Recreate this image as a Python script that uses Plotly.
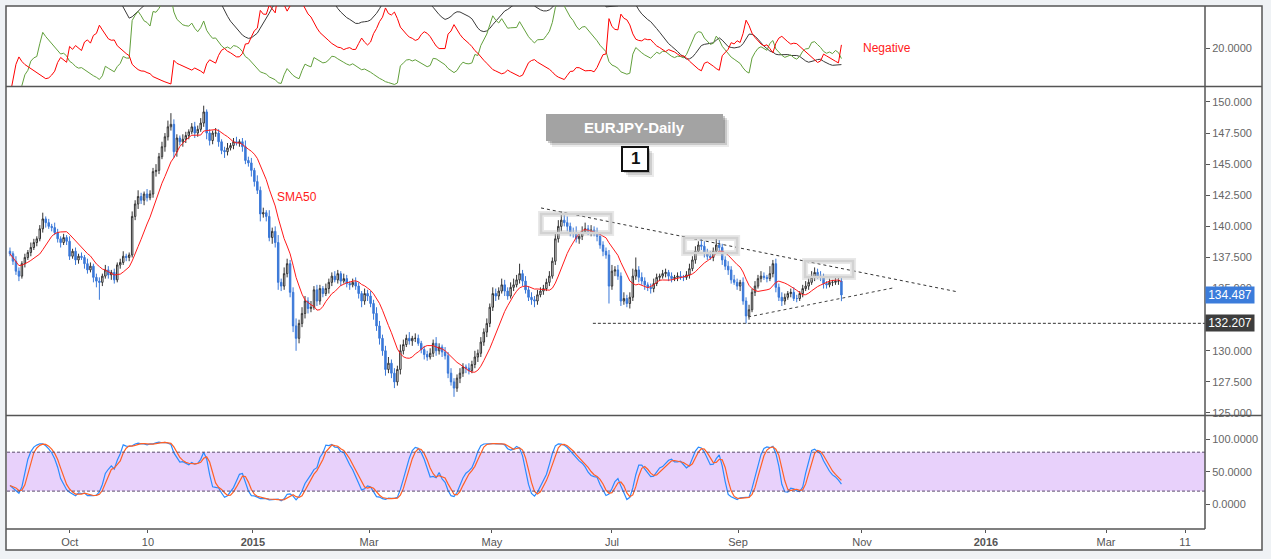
import numpy as np
import pandas as pd
import plotly.graph_objects as go

# ---------------- data ----------------
first_open = 138.0
closes = [
    137.8, 137.2, 136.4, 136.0, 137.0, 137.5, 137.9, 138.3, 138.7, 139.0,
    139.8, 140.6, 140.3, 140.0, 139.9, 139.5, 139.0, 138.7, 139.1, 138.8,
    137.6, 138.0, 137.3, 137.6, 137.5, 137.0, 136.5, 136.8, 135.9, 135.6,
    135.5, 136.0, 136.5, 136.1, 136.3, 135.7, 136.9, 137.1, 137.6, 137.5,
    137.7, 140.8, 141.8, 142.4, 142.1, 142.6, 142.3, 142.6, 144.4, 144.5,
    145.6, 146.4, 147.2, 148.0, 148.2, 146.0, 147.1, 146.8, 147.0, 147.3,
    147.6, 148.0, 147.5, 147.8, 148.3, 149.2, 147.5, 146.9, 147.5, 147.5,
    146.8, 146.1, 146.0, 146.3, 146.5, 146.8, 146.7, 146.8, 146.4, 145.3,
    145.1, 144.5, 143.6, 142.9, 141.0, 141.1, 140.8, 139.1, 139.6, 138.7,
    135.5, 135.2, 136.2, 137.0, 134.7, 132.0, 131.0, 132.2, 133.0, 134.0,
    133.4, 133.5, 134.9, 134.0, 135.0, 134.6, 135.0, 135.5, 136.0, 135.7,
    136.2, 135.6, 135.8, 135.4, 135.3, 135.5, 135.2, 134.6, 134.0, 134.6,
    134.4, 133.8, 133.0, 132.0, 131.0, 130.0, 128.5, 129.0, 128.2, 127.5,
    128.5, 130.0, 130.5, 131.0, 130.8, 131.0, 131.0, 130.6, 130.1, 129.7,
    129.5, 129.8, 130.6, 130.0, 130.3, 129.9, 129.6, 128.2, 127.5, 127.0,
    127.8, 128.2, 128.7, 128.6, 128.4, 128.9, 129.5, 129.8, 130.7, 131.5,
    132.2, 133.5, 134.6, 134.4, 134.8, 135.3, 134.8, 134.4, 135.1, 135.3,
    135.7, 136.2, 135.6, 134.9, 134.3, 134.1, 134.0, 134.5, 134.8, 135.0,
    135.5, 136.0, 137.2, 139.0, 140.0, 140.5, 140.3, 140.0, 139.5, 139.5,
    139.0, 139.2, 139.6, 139.8, 139.6, 139.7, 139.5, 139.2, 138.5, 138.0,
    137.7, 135.2, 136.4, 136.5, 136.0, 134.0, 134.2, 133.8, 134.3, 136.0,
    136.5, 135.9, 135.6, 135.3, 135.1, 135.0, 135.4, 135.9, 136.0, 136.2,
    136.3, 136.0, 135.8, 135.9, 136.0, 135.9, 135.9, 136.1, 136.6, 137.3,
    138.0, 138.5, 138.4, 137.9, 137.6, 137.5, 138.0, 138.5, 138.3, 137.3,
    136.8, 136.5, 135.7, 135.5, 135.2, 135.5, 134.0, 132.8, 133.3, 134.7,
    135.2, 135.8, 136.0, 135.9, 135.8, 136.2, 137.0, 135.1, 134.3, 134.0,
    134.3, 134.6, 134.7, 134.2, 134.2, 134.6, 135.0, 135.2, 135.5, 135.9,
    136.3, 136.0, 135.9, 135.4, 135.3, 135.5, 135.5, 135.6, 135.6, 134.487,
]
# wick lengths above the body / below the body (yen)
up_wick = [
    0.3,0.2,0.4,0.3,0.2,0.3,0.2,0.4,0.3,0.2, 0.3,0.5,0.2,0.3,0.2,0.4,0.3,0.2,0.3,0.2,
    0.4,0.2,0.3,0.2,0.3,0.2,0.4,0.3,0.2,0.3, 0.3,0.2,0.4,0.3,0.2,0.3,0.2,0.3,0.4,0.2,
    0.2,0.4,0.3,0.5,0.3,0.2,0.4,0.3,0.3,0.5, 0.3,0.4,0.3,0.5,0.9,0.4,0.3,0.2,0.4,0.3,
    0.2,0.3,0.4,0.3,0.4,0.5,0.2,0.3,0.2,0.4, 0.3,0.2,0.3,0.4,0.2,0.3,0.4,0.2,0.3,0.5,
    0.3,0.4,0.2,0.5,0.3,0.4,0.2,0.5,0.3,0.4, 0.6,0.3,0.5,0.4,0.3,0.4,0.6,0.3,0.5,0.4,
    0.3,0.5,0.3,0.4,0.3,0.2,0.4,0.3,0.3,0.4, 0.3,0.2,0.4,0.3,0.2,0.3,0.4,0.3,0.2,0.4,
    0.3,0.4,0.3,0.5,0.4,0.3,0.4,0.5,0.3,0.4, 0.3,0.5,0.4,0.3,0.5,0.2,0.4,0.3,0.2,0.3,
    0.3,0.4,0.3,0.5,0.3,0.2,0.4,0.3,0.4,0.3, 0.3,0.4,0.3,0.2,0.4,0.3,0.5,0.3,0.4,0.3,
    0.4,0.3,0.5,0.4,0.3,0.5,0.4,0.3,0.4,0.5, 0.4,0.8,0.3,0.4,0.3,0.4,0.3,0.4,0.3,0.3,
    0.3,0.4,0.3,0.4,0.5,0.7,0.4,0.5,0.3,0.4, 0.5,0.3,0.4,0.5,0.3,0.4,0.3,0.4,0.3,0.3,
    0.3,0.4,0.5,0.3,0.4,0.3,0.5,0.3,0.4,0.6, 1.0,0.3,0.4,0.3,0.2,0.3,0.4,0.3,0.2,0.3,
    0.3,0.2,0.3,0.2,0.3,0.4,0.2,0.3,0.4,0.3, 0.4,0.3,0.5,0.4,0.3,0.4,0.3,0.5,0.4,0.3,
    0.3,0.4,0.3,0.4,0.3,0.2,0.4,0.3,0.4,0.3, 0.4,0.3,0.4,0.3,0.2,0.6,0.3,0.4,0.3,0.4,
    0.3,0.2,0.3,0.4,0.3,0.2,0.3,0.4,0.3,0.5, 0.4,0.3,0.4,0.3,0.2,0.3,0.2,0.4,0.3,0.3,
]
dn_wick = [
    0.2,0.3,0.3,0.4,0.2,0.3,0.2,0.3,0.2,0.3, 0.2,0.3,0.4,0.2,0.3,0.2,0.3,0.4,0.2,0.3,
    0.3,0.2,0.4,0.3,0.2,0.4,0.3,0.2,0.4,0.5, 1.4,0.3,0.2,0.3,0.4,0.3,0.2,0.3,0.2,0.3,
    0.3,0.2,0.3,0.4,0.3,0.4,0.3,0.2,0.3,0.4, 0.3,0.2,0.4,0.3,0.3,0.5,0.4,0.3,0.4,0.3,
    0.3,0.2,0.4,0.3,0.2,0.3,0.5,0.4,0.3,0.3, 0.4,0.3,0.5,0.3,0.2,0.3,0.2,0.3,0.4,0.3,
    0.3,0.5,0.4,0.3,0.6,0.3,0.4,0.3,0.5,0.4, 0.6,0.4,0.3,0.3,0.4,0.5,1.0,0.4,0.3,0.4,
    0.4,0.3,0.2,0.4,0.3,0.3,0.2,0.4,0.3,0.2, 0.3,0.4,0.2,0.3,0.4,0.2,0.3,0.4,0.5,0.3,
    0.4,0.3,0.5,0.4,0.5,0.4,0.5,0.3,0.4,0.5, 0.3,0.4,0.3,0.2,0.3,0.4,0.3,0.2,0.3,0.4,
    0.3,0.2,0.3,0.4,0.3,0.4,0.3,0.4,0.3,0.7, 0.3,0.4,0.3,0.4,0.3,0.2,0.3,0.4,0.3,0.3,
    0.4,0.3,0.3,0.4,0.3,0.2,0.4,0.3,0.2,0.3, 0.2,0.3,0.4,0.3,0.3,0.4,0.5,0.3,0.2,0.3,
    0.2,0.3,0.2,0.3,0.3,0.4,0.3,0.4,0.3,0.4, 0.3,0.4,0.3,0.2,0.3,0.4,0.3,0.4,0.3,0.4,
    0.3,1.4,0.3,0.4,0.3,0.4,0.3,0.3,0.4,0.3, 0.3,0.4,0.3,0.4,0.3,0.4,0.3,0.2,0.3,0.2,
    0.3,0.4,0.3,0.2,0.3,0.2,0.3,0.2,0.3,0.2, 0.3,0.2,0.3,0.4,0.3,0.2,0.3,0.2,0.3,0.4,
    0.3,0.4,0.3,0.2,0.3,0.4,0.3,0.6,0.3,0.2, 0.3,0.2,0.3,0.2,0.3,0.2,0.3,0.4,0.3,0.4,
    0.3,0.2,0.3,0.2,0.3,0.2,0.3,0.2,0.3,0.2, 0.3,0.2,0.3,0.4,0.3,0.2,0.3,0.2,0.3,0.5,
]

tick_pos = [20.1, 46.3, 81.5, 120.5, 161.7, 202.0, 244.3, 285.9, 327.5, 367.8, 394.3]
tick_text = ["Oct", "10", "<b>2015</b>", "Mar", "May", "Jul", "Sep", "Nov", "<b>2016</b>", "Mar", "11"]
price_ticks = [125.0, 127.5, 130.0, 135.0, 137.5, 140.0, 142.5, 145.0, 147.5, 150.0]
stoch_ticks = [0, 50, 100]
dmi_ticks = [20]

# trend-line / level / highlight annotations (bar index, price)
trend_upper_x = [178.2, 318.1]
trend_upper_y = [141.48, 134.73]
trend_lower_x = [247.7, 296.3]
trend_lower_y = [132.72, 135.05]
support_level = 132.207
support_start = 195.6
last_price = 134.487
boxes_x0 = [178.2, 226.2, 266.8]
boxes_x1 = [201.7, 244.0, 282.9]
boxes_y0 = [139.47, 137.86, 135.93]
boxes_y1 = [141.00, 139.07, 137.22]

sma_window = 10
stoch_n = 10
dmi_n = 14

# ---------------- derived series ----------------
n = len(closes)
idx = np.arange(n)
c = np.array(closes, dtype=float)
o = np.concatenate([[first_open], c[:-1]])          # open = previous close
h = np.maximum(o, c) + np.array(up_wick[:n])
l = np.minimum(o, c) - np.array(dn_wick[:n])

cs, hs, ls = pd.Series(c), pd.Series(h), pd.Series(l)
sma = cs.rolling(sma_window, min_periods=1).mean()

hh = hs.rolling(stoch_n, min_periods=1).max()
ll = ls.rolling(stoch_n, min_periods=1).min()
fast_k = 100 * (cs - ll) / (hh - ll)
k_line = fast_k.rolling(3, min_periods=1).mean()
d_line = k_line.rolling(3, min_periods=1).mean()

upm = hs.diff()
dnm = -ls.diff()
pdm = pd.Series(np.where((upm > dnm) & (upm > 0), upm, 0.0))
ndm = pd.Series(np.where((dnm > upm) & (dnm > 0), dnm, 0.0))
tr = pd.concat([hs - ls, (hs - cs.shift()).abs(), (ls - cs.shift()).abs()], axis=1).max(axis=1)
a = 1.0 / dmi_n
atr = tr.ewm(alpha=a, adjust=False).mean()
pdi = 100 * pdm.ewm(alpha=a, adjust=False).mean() / atr
ndi = 100 * ndm.ewm(alpha=a, adjust=False).mean() / atr
dx = 100 * (pdi - ndi).abs() / (pdi + ndi)
adx = dx.ewm(alpha=a, adjust=False).mean()

# ---------------- figure ----------------
FONT = "Liberation Sans, Arial, sans-serif"
fig = go.Figure()

fig.add_trace(go.Scatter(x=idx, y=adx, mode="lines", line=dict(color="#3a3a3a", width=1), xaxis="x", yaxis="y"))
fig.add_trace(go.Scatter(x=idx, y=pdi, mode="lines", line=dict(color="#62a03c", width=1), xaxis="x", yaxis="y"))
fig.add_trace(go.Scatter(x=idx, y=ndi, mode="lines", line=dict(color="#ff0000", width=1), xaxis="x", yaxis="y"))

fig.add_trace(go.Candlestick(
    x=idx, open=o, high=h, low=l, close=c, xaxis="x2", yaxis="y2",
    increasing=dict(line=dict(color="#333333", width=1), fillcolor="#ffffff"),
    decreasing=dict(line=dict(color="#3a78d8", width=1), fillcolor="#3a78d8"),
    whiskerwidth=0, hoverinfo="skip"))
fig.add_trace(go.Scatter(x=idx, y=sma, mode="lines", line=dict(color="#ff1a1a", width=1), xaxis="x2", yaxis="y2"))

fig.add_trace(go.Scatter(x=idx, y=k_line, mode="lines", line=dict(color="#2a8cff", width=1.2), xaxis="x3", yaxis="y3"))
fig.add_trace(go.Scatter(x=idx, y=d_line, mode="lines", line=dict(color="#ff6026", width=1.2), xaxis="x3", yaxis="y3"))

def px(x):
    return (x - 7) / 1198.0

def py(y):
    return (529 - y) / 523.0

XR = [-1.0, 401.0]
shapes = []
# outer white frame
shapes.append(dict(type="rect", xref="paper", yref="paper", x0=px(6), x1=px(1262), y0=py(550), y1=py(6),
                   fillcolor="white", line=dict(color="#555", width=1.5), layer="below"))
# stochastic band
shapes.append(dict(type="rect", xref="x3", yref="y3", x0=XR[0], x1=XR[1], y0=20, y1=80,
                   fillcolor="#e8d1fb", line=dict(width=0), layer="below"))
for lv in (20, 80):
    shapes.append(dict(type="line", xref="x3", yref="y3", x0=XR[0], x1=XR[1], y0=lv, y1=lv,
                       line=dict(color="#5a4a6e", width=1, dash="3px,2px")))
# trend lines & support
shapes.append(dict(type="line", xref="x2", yref="y2", x0=trend_upper_x[0], x1=trend_upper_x[1],
                   y0=trend_upper_y[0], y1=trend_upper_y[1], line=dict(color="#333", width=1, dash="3px,3px")))
shapes.append(dict(type="line", xref="x2", yref="y2", x0=trend_lower_x[0], x1=trend_lower_x[1],
                   y0=trend_lower_y[0], y1=trend_lower_y[1], line=dict(color="#444", width=1, dash="3px,3px")))
shapes.append(dict(type="line", xref="x2", yref="y2", x0=support_start, x1=XR[1],
                   y0=support_level, y1=support_level, line=dict(color="#333", width=1, dash="3px,2px")))
# highlight boxes
for x0, x1, y0, y1 in zip(boxes_x0, boxes_x1, boxes_y0, boxes_y1):
    shapes.append(dict(type="rect", xref="x2", yref="y2", x0=x0, x1=x1, y0=y0, y1=y1,
                       line=dict(color="rgba(190,190,190,0.35)", width=6)))
    shapes.append(dict(type="rect", xref="x2", yref="y2", x0=x0, x1=x1, y0=y0, y1=y1,
                       line=dict(color="#d2d2d2", width=2.5)))
# title box with shadow
for off, op in ((6, 0.08), (4, 0.14), (2, 0.2)):
    shapes.append(dict(type="rect", xref="paper", yref="paper", x0=px(546 + off), x1=px(723 + off),
                       y0=py(141 + off), y1=py(114 + off), fillcolor="rgba(0,0,0,%.2f)" % op, line=dict(width=0)))
shapes.append(dict(type="rect", xref="paper", yref="paper", x0=px(546), x1=px(723), y0=py(141), y1=py(114),
                   fillcolor="#a3a3a3", line=dict(width=0)))
for off, op in ((6, 0.08), (4, 0.12), (2, 0.18)):
    shapes.append(dict(type="rect", xref="paper", yref="paper", x0=px(622 + off), x1=px(648 + off),
                       y0=py(171 + off), y1=py(147 + off), fillcolor="rgba(0,0,0,%.2f)" % op, line=dict(width=0)))
shapes.append(dict(type="rect", xref="paper", yref="paper", x0=px(622), x1=px(648), y0=py(171), y1=py(147),
                   fillcolor="white", line=dict(color="#111", width=2)))
# panel separators / axis lines
for yy in (86.5, 415.5):
    shapes.append(dict(type="line", xref="paper", yref="paper", x0=px(6), x1=px(1262), y0=py(yy), y1=py(yy),
                       line=dict(color="#555", width=1.5)))
shapes.append(dict(type="line", xref="paper", yref="paper", x0=px(1205), x1=px(1205), y0=py(529), y1=py(6),
                   line=dict(color="#555", width=1.5)))
shapes.append(dict(type="line", xref="paper", yref="paper", x0=px(6), x1=px(1205), y0=py(529), y1=py(529),
                   line=dict(color="#555", width=1.5)))

annotations = [
    dict(xref="paper", yref="paper", x=px(634.5), y=py(127.5), xanchor="center", yanchor="middle",
         text="<b>EURJPY-Daily</b>", showarrow=False, font=dict(family=FONT, size=15, color="white")),
    dict(xref="paper", yref="paper", x=px(635), y=py(159), xanchor="center", yanchor="middle",
         text="<b>1</b>", showarrow=False, font=dict(family=FONT, size=17, color="#111")),
    dict(xref="x2", yref="y2", x=96.3, y=142.36, xanchor="center", yanchor="middle", text="SMA50",
         showarrow=False, font=dict(family=FONT, size=12, color="#ff1a1a")),
    dict(xref="x", yref="y", x=294.3, y=20, xanchor="center", yanchor="middle", text="Negative",
         showarrow=False, font=dict(family=FONT, size=12, color="#ff1a1a")),
    dict(xref="paper", yref="y2", x=1.0, y=last_price, xanchor="left", yanchor="middle", text="134.487",
         showarrow=False, bgcolor="#3b7cdb", width=46, height=14, borderpad=1,
         font=dict(family=FONT, size=12, color="white")),
    dict(xref="paper", yref="y2", x=1.0, y=support_level, xanchor="left", yanchor="middle", text="132.207",
         showarrow=False, bgcolor="#3d3d3d", width=46, height=14, borderpad=1,
         font=dict(family=FONT, size=12, color="white")),
]

yax_common = dict(side="right", ticks="outside", ticklen=4, tickcolor="#555", showgrid=False, zeroline=False,
                  showline=False, tickfont=dict(family=FONT, size=11, color="#666"), fixedrange=True,
                  tickmode="array")
xax_common = dict(showgrid=False, zeroline=False, showline=False, range=XR)

fig.update_layout(
    width=1271, height=559, margin=dict(l=7, r=66, t=6, b=30),
    paper_bgcolor="#eff2f5", plot_bgcolor="white", showlegend=False,
    font=dict(family=FONT, size=11, color="#666"),
    xaxis=dict(domain=[0, 1], anchor="y", matches="x3", showticklabels=False, **xax_common),
    xaxis2=dict(domain=[0, 1], anchor="y2", matches="x3", showticklabels=False,
                rangeslider=dict(visible=False), **xax_common),
    xaxis3=dict(domain=[0, 1], anchor="y3", tickmode="array", tickvals=tick_pos, ticktext=tick_text,
                ticks="outside", ticklen=3, tickcolor="#555",
                tickfont=dict(family=FONT, size=11, color="#555"), **xax_common),
    yaxis=dict(domain=[0.847, 1.0], anchor="x", range=[4, 38], tickvals=dmi_ticks,
               tickformat=".4f", **yax_common),
    yaxis2=dict(domain=[0.2180, 0.8451], anchor="x2", range=[124.84, 151.2], tickvals=price_ticks,
                tickformat=".3f", **yax_common),
    yaxis3=dict(domain=[0, 0.2161], anchor="x3", range=[-38.4, 135.8], tickvals=stoch_ticks,
                tickformat=".4f", **yax_common),
    shapes=shapes, annotations=annotations,
)

fig.write_html("out.html")
